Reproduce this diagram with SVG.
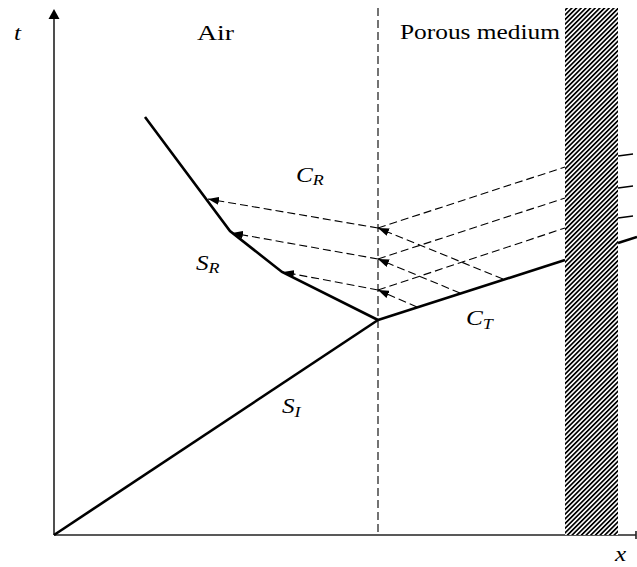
<svg xmlns="http://www.w3.org/2000/svg" width="637" height="567" viewBox="0 0 637 567">
<style>
.axis{stroke:#222;stroke-width:1.6;fill:none}
.shock{stroke:#000;stroke-width:2.6;fill:none;stroke-linejoin:miter}
.dash{stroke:#000;stroke-width:1.1;fill:none;stroke-dasharray:8,4}
.thin{stroke:#000;stroke-width:1.3;fill:none}
.lbl{font-family:"Liberation Serif","Times New Roman",serif;font-size:20px;fill:#000}
.var{font-family:"Liberation Serif","Times New Roman",serif;font-style:italic;font-size:21px;fill:#000}
.sub{font-size:15px}
</style>
<defs>
<marker id="arr" markerUnits="userSpaceOnUse" markerWidth="12" markerHeight="8" refX="11" refY="4" orient="auto">
<path d="M0,0 L11,4 L0,8 z" fill="#000"/>
</marker>
<pattern id="hatch" patternUnits="userSpaceOnUse" width="3.3" height="10" patternTransform="rotate(45)">
<rect width="3.3" height="10" fill="#fff"/>
<rect width="1.7" height="10" fill="#000"/>
</pattern>
</defs>

<g id="axes">
<line class="axis" x1="54" y1="535" x2="54" y2="16"/>
<path d="M54,9 L48.5,19 L59.5,19 z" fill="#000"/>
<line class="axis" x1="54" y1="535" x2="636" y2="535"/>
<line class="axis" x1="636" y1="531" x2="636" y2="539"/>
</g>

<g id="interface">
<line class="dash" x1="378" y1="8" x2="378" y2="535"/>
</g>

<g id="connectors">
<path class="dash" d="M378,228 L208,199" marker-end="url(#arr)"/>
<path class="dash" d="M378,259 L232,233" marker-end="url(#arr)"/>
<path class="dash" d="M378,290 L283,272" marker-end="url(#arr)"/>
<path class="dash" d="M503,279 L378,228" marker-end="url(#arr)"/>
<path class="dash" d="M460,293 L378,259" marker-end="url(#arr)"/>
<path class="dash" d="M417,307 L378,290" marker-end="url(#arr)"/>
<path class="dash" d="M378,228 L565,167"/>
<path class="dash" d="M378,259 L565,198"/>
<path class="dash" d="M378,290 L565,228"/>
<path class="thin" d="M618,156 L633,154"/>
<path class="thin" d="M618,188 L633,186"/>
<path class="thin" d="M618,218 L633,216"/>
</g>

<g id="shocks">
<path id="SI" class="shock" d="M54,535 L378,320"/>
<path id="SR" class="shock" d="M378,320 L282,272 L230,231 L145,117"/>
<path id="CT" class="shock" d="M378,320 L565,260"/>
<path class="shock" d="M618,243 L637,237"/>
</g>

<g id="wall">
<rect x="565" y="8" width="53" height="527" fill="url(#hatch)"/>
</g>

<g id="labels">
<text class="var" transform="translate(14,40) scale(1.2,1)">t</text>
<text class="lbl" x="197" y="40" textLength="37" lengthAdjust="spacingAndGlyphs">Air</text>
<text class="lbl" x="400" y="39" textLength="160" lengthAdjust="spacingAndGlyphs">Porous medium</text>
<text class="var" transform="translate(296,182) scale(1.2,1)">C<tspan class="sub" dy="3">R</tspan></text>
<text class="var" transform="translate(196,270) scale(1.2,1)">S<tspan class="sub" dy="3">R</tspan></text>
<text class="var" transform="translate(466,325) scale(1.2,1)">C<tspan class="sub" dy="4">T</tspan></text>
<text class="var" transform="translate(282,413) scale(1.2,1)">S<tspan class="sub" dy="4">I</tspan></text>
<text class="var" transform="translate(615,561) scale(1.2,1)">x</text>
</g>
</svg>
